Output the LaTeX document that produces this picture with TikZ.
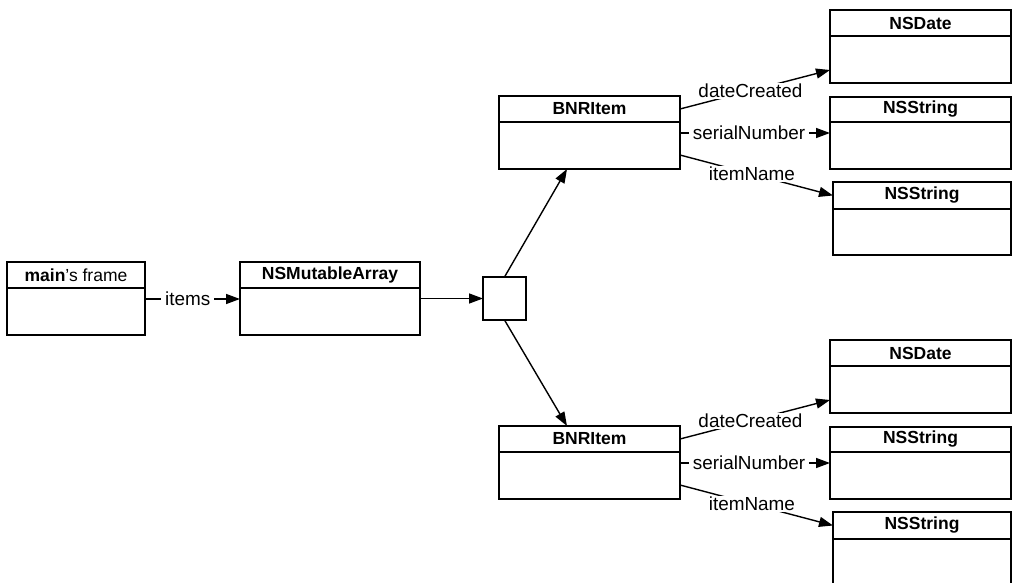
\documentclass[tikz,border=0pt]{standalone}
\usepackage{fontspec}
\setmainfont{Liberation Sans}
\usetikzlibrary{arrows.meta}
\newcommand\objbox[7]{%
  \node[hdr, minimum width=#4pt, minimum height=#5pt] (#1-h) at (#2,#3) {#7};
  \node[body, minimum width=#4pt, minimum height=#6pt] (#1-b) at (#1-h.south west) {};
}
\begin{document}
\begin{tikzpicture}[x=1pt,y=-1pt, line width=1.4pt,
  hdr/.style={draw, rectangle, anchor=north west, inner sep=0pt, outer sep=0pt, font=\fontsize{17.5}{20}\selectfont},
  body/.style={draw, rectangle, anchor=north west, inner sep=0pt, outer sep=0pt},
  arr/.style={-{Triangle[length=14pt,width=10pt]}},
  lbl/.style={fill=white, inner xsep=4pt, inner ysep=1pt, font=\fontsize{18.9}{21}\selectfont},
  sqbox/.style={draw, rectangle, minimum width=43pt, minimum height=43pt, anchor=north west, inner sep=0pt, outer sep=0pt},
]
\fill[white] (0,0) rectangle (1014,583);
\useasboundingbox (0,0) rectangle (1014,583);
\clip (0,0) rectangle (1014,583);

\objbox{main}{7}{262}{138}{26}{47}{\textbf{main}'s frame}
\objbox{arr}{240}{262}{180}{26}{47}{\textbf{NSMutableArray}}
\node[sqbox] (sq) at (483,277) {};

\objbox{b1}{499}{96}{181}{26}{47}{\textbf{BNRItem}}
\objbox{b2}{499}{426}{181}{26}{47}{\textbf{BNRItem}}

\objbox{d1}{830}{10}{181}{26}{47}{\textbf{NSDate}}
\objbox{s1}{830}{97}{181}{25}{47}{\textbf{NSString}}
\objbox{n1}{833}{182}{178}{27}{46}{\textbf{NSString}}

\objbox{d2}{830}{340}{181}{26}{47}{\textbf{NSDate}}
\objbox{s2}{830}{427}{181}{25}{47}{\textbf{NSString}}
\objbox{n2}{833}{512}{178}{27}{46}{\textbf{NSString}}

\draw[arr] ([yshift=-11pt]main-b.north east) -- node[lbl, pos=0.45]{items} ([yshift=-11pt]arr-b.north west);
\draw[arr] (sq.west -| arr-b.east) -- (sq.west);
\draw[arr] (sq.north) -- ([xshift=68pt]b1-b.south west);
\draw[arr] (sq.south) -- ([xshift=68pt]b2-h.north west);

\foreach \b/\d/\s/\n in {b1/d1/s1/n1, b2/d2/s2/n2}{
  \draw[arr] (\b-h.east) -- node[lbl, pos=0.47]{dateCreated} ([yshift=13pt]\d-b.south west);
  \draw[arr] ([yshift=-11pt]\b-b.north east) -- node[lbl, pos=0.46]{serialNumber} ([yshift=-11pt]\s-b.north west);
  \draw[arr] ([yshift=14pt]\b-b.south east) -- node[lbl, pos=0.47]{itemName} (\n-h.west);
}
\end{tikzpicture}
\end{document}
